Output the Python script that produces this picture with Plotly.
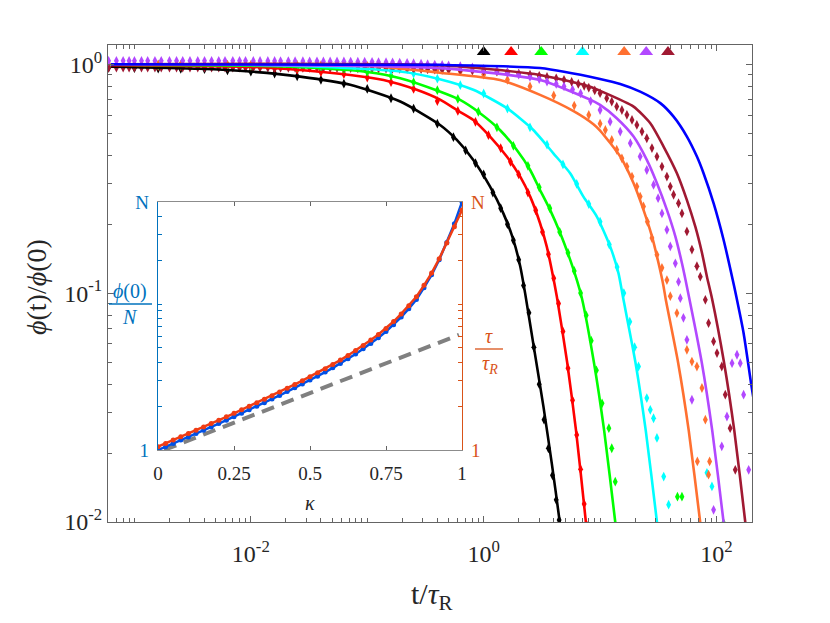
import plotly.graph_objects as go

# ---- main panel: relaxation curves (solid lines) ----
colors = {
    "black": "rgb(0,0,0)",
    "red": "rgb(255,0,0)",
    "green": "rgb(0,255,0)",
    "cyan": "rgb(0,255,255)",
    "orange": "rgb(255,112,48)",
    "purple": "rgb(178,72,255)",
    "darkred": "rgb(160,25,50)",
    "blue": "rgb(0,0,255)",
}

t_black = [0.00063, 0.0036, 0.0098, 0.0265, 0.0714, 0.192, 0.422, 0.588, 0.815, 1.135, 1.476, 1.80, 2.06, 2.27, 2.67, 3.26, 3.85, 4.48, 4.75]
phi_black = [0.975, 0.955, 0.929, 0.883, 0.813, 0.687, 0.543, 0.467, 0.382, 0.292, 0.223, 0.171, 0.131, 0.100, 0.060, 0.032, 0.018, 0.0102, 0.0078]

t_red = [0.00063, 0.01, 0.0265, 0.0714, 0.138, 0.266, 0.422, 0.588, 0.815, 1.135, 1.58, 2.06, 2.51, 3.05, 3.48, 3.85, 4.25, 5.21, 6.22, 7.55, 7.9]
phi_red = [0.99, 0.973, 0.944, 0.898, 0.853, 0.773, 0.70, 0.631, 0.571, 0.483, 0.395, 0.323, 0.264, 0.202, 0.160, 0.126, 0.0966, 0.05, 0.025, 0.01, 0.0078]

t_green = [0.00063, 0.01, 0.04, 0.1, 0.192, 0.42, 0.627, 0.931, 1.38, 1.92, 2.51, 3.05, 3.72, 4.54, 5.53, 6.32, 6.98, 8.84, 10.85, 13.5, 14.1]
phi_green = [0.995, 0.985, 0.96, 0.925, 0.869, 0.76, 0.698, 0.611, 0.516, 0.423, 0.345, 0.282, 0.231, 0.183, 0.140, 0.114, 0.095, 0.05, 0.025, 0.01, 0.0082]

t_cyan = [0.00063, 0.01, 0.05, 0.192, 0.42, 0.815, 1.58, 2.67, 3.97, 5.53, 7.19, 9.38, 12.2, 14.4, 15.7, 20.1, 24.7, 30.8, 32.3]
phi_cyan = [1.0, 0.995, 0.97, 0.929, 0.86, 0.773, 0.643, 0.516, 0.408, 0.334, 0.264, 0.216, 0.160, 0.122, 0.0966, 0.05, 0.025, 0.01, 0.008]

t_orange = [0.00063, 0.1, 0.42, 1.38, 3.05, 5.92, 8.77, 10.0, 14.9, 19.4, 23.6, 27.9, 31.8, 35.1, 36.7, 46.7, 57.8, 72.4, 76.0]
phi_orange = [1.0, 0.985, 0.918, 0.853, 0.735, 0.624, 0.547, 0.513, 0.395, 0.302, 0.231, 0.177, 0.135, 0.107, 0.0935, 0.05, 0.025, 0.01, 0.008]

t_purple = [0.00063, 0.422, 3.05, 8.22, 10.0, 13.9, 19.4, 25.2, 30.8, 37.5, 44.3, 50.5, 56.5, 74.6, 92.0, 115.0, 121.0]
phi_purple = [1.0, 0.962, 0.853, 0.70, 0.664, 0.581, 0.483, 0.382, 0.302, 0.231, 0.177, 0.135, 0.103, 0.05, 0.025, 0.01, 0.0078]

t_darkred = [0.00063, 0.422, 3.05, 8.22, 10.0, 19.4, 27.0, 35.1, 45.7, 55.7, 65.8, 75.0, 82.8, 91.4, 115.9, 142.3, 176.6, 185.0]
phi_darkred = [1.0, 0.99, 0.898, 0.798, 0.765, 0.653, 0.552, 0.437, 0.334, 0.255, 0.195, 0.150, 0.118, 0.095, 0.05, 0.025, 0.01, 0.0078]

t_blue = [0.00063, 0.422, 3.05, 10.0, 14.9, 22.1, 32.9, 42.8, 55.7, 67.9, 77.4, 94.4, 115.0, 136.0, 148.0, 171.0, 198.0, 215.0]
phi_blue = [1.0, 0.993, 0.962, 0.862, 0.820, 0.759, 0.676, 0.590, 0.483, 0.395, 0.334, 0.247, 0.171, 0.118, 0.0966, 0.0668, 0.0405, 0.031]

# ---- main panel: simulation points (diamonds) ----
tm_black = [0.0006, 0.001, 0.0016, 0.0025, 0.004, 0.0063, 0.01, 0.016, 0.025, 0.04, 0.063, 0.1, 0.16, 0.25, 0.4, 0.55, 0.7, 0.85, 1.0, 1.2, 1.4, 1.6, 1.8, 2.0, 2.2, 2.45, 2.7, 3.0, 3.3, 3.6, 3.9, 4.2, 4.45]
pm_black = [0.965, 0.962, 0.958, 0.955, 0.952, 0.94, 0.928, 0.91, 0.885, 0.855, 0.822, 0.78, 0.71, 0.64, 0.55, 0.48, 0.42, 0.37, 0.33, 0.275, 0.235, 0.2, 0.17, 0.14, 0.108, 0.082, 0.058, 0.04, 0.028, 0.021, 0.016, 0.0125, 0.0102]

tm_red = [0.0006, 0.001, 0.0016, 0.0025, 0.004, 0.0063, 0.01, 0.016, 0.025, 0.04, 0.063, 0.1, 0.16, 0.25, 0.4, 0.6, 0.85, 1.1, 1.4, 1.7, 2.0, 2.4, 2.8, 3.2, 3.6, 4.0, 4.4, 4.8, 5.3, 5.8, 6.3, 6.8, 7.3, 7.6]
pm_red = [0.985, 0.983, 0.98, 0.978, 0.975, 0.972, 0.968, 0.958, 0.945, 0.925, 0.905, 0.875, 0.835, 0.78, 0.69, 0.625, 0.56, 0.49, 0.43, 0.375, 0.33, 0.275, 0.23, 0.185, 0.148, 0.116, 0.09, 0.068, 0.047, 0.034, 0.024, 0.017, 0.012, 0.0098]

tm_green = [0.0006, 0.001, 0.0016, 0.0025, 0.004, 0.0063, 0.01, 0.016, 0.025, 0.04, 0.063, 0.1, 0.16, 0.25, 0.4, 0.6, 0.9, 1.3, 1.8, 2.4, 3.0, 3.7, 4.5, 5.3, 6.0, 6.8, 7.6, 8.4, 9.3, 10.4, 11.9, 12.6, 13.5, 46.2, 50.5, 115.0]
pm_green = [0.99, 0.99, 0.988, 0.987, 0.985, 0.983, 0.98, 0.975, 0.968, 0.958, 0.945, 0.925, 0.89, 0.835, 0.77, 0.705, 0.62, 0.53, 0.44, 0.36, 0.29, 0.235, 0.185, 0.15, 0.125, 0.1, 0.08, 0.062, 0.046, 0.033, 0.0257, 0.021, 0.015, 0.0129, 0.0129, 0.0099]

tm_cyan = [0.0006, 0.001, 0.0016, 0.0025, 0.004, 0.0063, 0.01, 0.016, 0.025, 0.04, 0.063, 0.1, 0.16, 0.25, 0.4, 0.63, 1.0, 1.6, 2.5, 3.5, 4.8, 6.3, 8.0, 10.0, 12.0, 14.0, 16.0, 18.0, 19.8, 21.4, 25.2, 27.0, 28.8, 30.8, 35.2, 38.8, 82.8, 91.4]
pm_cyan = [0.995, 0.995, 0.994, 0.993, 0.992, 0.992, 0.99, 0.988, 0.985, 0.98, 0.972, 0.962, 0.94, 0.91, 0.865, 0.81, 0.745, 0.64, 0.53, 0.445, 0.365, 0.3, 0.245, 0.205, 0.163, 0.13, 0.1, 0.075, 0.058, 0.0478, 0.0348, 0.0309, 0.0284, 0.0233, 0.0158, 0.0119, 0.0164, 0.0143]

tm_orange = [0.0006, 0.001, 0.0016, 0.0025, 0.004, 0.0063, 0.01, 0.016, 0.025, 0.04, 0.063, 0.1, 0.16, 0.25, 0.4, 0.63, 1.0, 1.6, 2.5, 4.0, 6.0, 8.0, 10.0, 11.1, 12.6, 13.9, 15.4, 17.0, 18.8, 20.7, 22.1, 23.6, 25.5, 27.9, 30.8, 34.0, 37.5, 40.1, 45.7, 55.7, 61.5, 67.9, 75.0, 80.2, 68.5, 87.3, 85.5]
pm_orange = [1.0, 1.0, 0.998, 0.997, 0.996, 0.995, 0.994, 0.993, 0.992, 0.99, 0.987, 0.983, 0.975, 0.965, 0.95, 0.93, 0.9, 0.855, 0.8, 0.73, 0.66, 0.6, 0.55, 0.516, 0.467, 0.423, 0.388, 0.357, 0.323, 0.292, 0.264, 0.239, 0.205, 0.174, 0.147, 0.129, 0.114, 0.097, 0.0818, 0.0565, 0.0502, 0.0478, 0.0385, 0.028, 0.0184, 0.0184, 0.0161]

# sampling times of the densely drawn plateau (top band of purple / dark red points)
t_band = [0.0006, 0.0007, 0.0008, 0.0009, 0.001, 0.00115, 0.0013, 0.0015, 0.0017, 0.002, 0.0023, 0.0026, 0.003, 0.0035, 0.004,
          0.0046, 0.0053, 0.006, 0.007, 0.008, 0.009, 0.0105, 0.012, 0.014, 0.016, 0.018, 0.021, 0.024, 0.028, 0.032,
          0.037, 0.042, 0.048, 0.055, 0.063, 0.072, 0.083, 0.095, 0.11, 0.125, 0.145, 0.165, 0.19, 0.22, 0.25, 0.29,
          0.33, 0.38, 0.44, 0.5]
pb_purple = [1.035, 1.035, 1.035, 1.035, 1.035, 1.035, 1.035, 1.035, 1.035, 1.035, 1.035, 1.035, 1.035, 1.035, 1.035,
             1.035, 1.035, 1.035, 1.035, 1.035, 1.035, 1.034, 1.034, 1.033, 1.033, 1.032, 1.032, 1.031, 1.031, 1.030,
             1.030, 1.029, 1.029, 1.028, 1.028, 1.027, 1.026, 1.025, 1.024, 1.022, 1.021, 1.019, 1.017, 1.014, 1.010, 1.006,
             1.001, 0.996, 0.992, 0.988]
pb_darkred = [0.966, 0.966, 0.966, 0.966, 0.966, 0.966, 0.966, 0.966, 0.966, 0.966, 0.966, 0.966, 0.966, 0.966, 0.966,
              0.966, 0.966, 0.966, 0.966, 0.966, 0.966, 0.966, 0.965, 0.965, 0.965, 0.964, 0.964, 0.964, 0.963, 0.963,
              0.963, 0.962, 0.962, 0.962, 0.961, 0.961, 0.960, 0.960, 0.959, 0.958, 0.957, 0.956, 0.955, 0.954, 0.953, 0.951,
              0.950, 0.948, 0.946, 0.944]

tm_purple = [0.63, 0.8, 1.0, 1.3, 1.6, 2.0, 2.5, 3.0, 3.5, 4.2, 4.9, 5.8, 6.8, 8.3, 10.0, 12.2, 14.9, 18.2, 22.1, 25.2, 28.8, 31.5, 34.0, 37.5, 40.1, 44.3, 47.2, 48.9, 52.0, 55.7, 61.5, 94.4, 111.0, 123.0, 136.0, 150.0, 160.0, 171.0, 189.0]
pm_purple = [0.98, 0.968, 0.955, 0.94, 0.92, 0.9, 0.88, 0.862, 0.84, 0.82, 0.8, 0.775, 0.746, 0.69, 0.631, 0.561, 0.508, 0.452, 0.395, 0.345, 0.297, 0.26, 0.223, 0.189, 0.16, 0.135, 0.112, 0.095, 0.078, 0.0625, 0.0342, 0.0113, 0.0214, 0.0289, 0.0494, 0.0538, 0.0494, 0.036, 0.0169]

tm_darkred = [0.63, 0.8, 1.0, 1.3, 1.6, 2.0, 2.5, 3.0, 3.5, 4.2, 4.9, 5.7, 6.5, 7.3, 8.0, 9.0, 10.0, 11.4, 12.6, 13.9, 15.4, 17.0, 18.8, 20.7, 22.9, 25.2, 27.9, 30.8, 34.0, 37.5, 40.1, 42.8, 47.2, 50.5, 55.7, 61.5, 67.9, 72.6, 80.2, 85.5, 94.4, 101.0, 111.0, 119.0, 131.0, 145.0]
pm_darkred = [0.94, 0.937, 0.935, 0.928, 0.92, 0.91, 0.9, 0.89, 0.88, 0.868, 0.855, 0.838, 0.82, 0.805, 0.79, 0.768, 0.747, 0.711, 0.687, 0.653, 0.631, 0.601, 0.571, 0.543, 0.508, 0.475, 0.43, 0.395, 0.357, 0.323, 0.292, 0.269, 0.247, 0.223, 0.186, 0.155, 0.131, 0.118, 0.0935, 0.074, 0.0615, 0.0547, 0.0478, 0.036, 0.0257, 0.0169]

# relaxation times marked with triangles along the top
tau_marks = [1.0, 1.72, 3.12, 7.06, 16.1, 24.9, 38.3]
tau_level = [1.13, 1.13, 1.13, 1.13, 1.13, 1.13, 1.13]
tau_colors = ["black", "red", "green", "cyan", "orange", "purple", "darkred"]

# ---- inset ----
kappa = [0.0, 0.025, 0.05, 0.075, 0.1, 0.125, 0.15, 0.175, 0.2, 0.225, 0.25, 0.275, 0.3, 0.325, 0.35, 0.375, 0.4, 0.425, 0.45, 0.475, 0.5,
         0.525, 0.55, 0.575, 0.6, 0.625, 0.65, 0.675, 0.7, 0.725, 0.75, 0.775, 0.8, 0.825, 0.85, 0.875, 0.9, 0.925, 0.95, 0.975, 1.0]
phi0_over_N = [1.0, 1.052, 1.109, 1.169, 1.23, 1.297, 1.365, 1.439, 1.517, 1.6, 1.69, 1.786, 1.888, 1.995, 2.109, 2.234, 2.366, 2.512, 2.667, 2.831, 3.013,
               3.206, 3.42, 3.656, 3.917, 4.217, 4.55, 4.932, 5.37, 5.875, 6.471, 7.211, 8.147, 9.29, 10.72, 12.94, 15.85, 20.09, 26.42, 35.48, 50.0]
tau_over_tauR = [1.054, 1.109, 1.169, 1.233, 1.297, 1.368, 1.439, 1.517, 1.6, 1.687, 1.782, 1.884, 1.991, 2.104, 2.223, 2.355, 2.495, 2.649, 2.812, 2.985, 3.177,
                 3.381, 3.606, 3.855, 4.13, 4.446, 4.797, 5.2, 5.662, 6.194, 6.808, 7.586, 8.551, 9.727, 11.22, 13.43, 16.29, 20.42, 26.18, 33.88, 44.06]
guide_kappa = [0.02, 0.99]
guide_val = [1.0, 6.15]
N_value = 50

x_major = [0.01, 1, 100]
x_major_text = ["10<sup>-2</sup>", "10<sup>0</sup>", "10<sup>2</sup>"]
y_major = [0.01, 0.1, 1]
y_major_text = ["10<sup>-2</sup>", "10<sup>-1</sup>", "10<sup>0</sup>"]
inset_x_ticks = [0, 0.25, 0.5, 0.75, 1]
inset_x_text = ["0", "0.25", "0.5", "0.75", "1"]

FRAME = "rgb(100,100,100)"
INK = "rgb(38,38,38)"
AX_BLUE = "rgb(0,114,189)"
AX_ORANGE = "rgb(217,83,25)"
FONT = "Liberation Serif"

# the page body adds an 8 px offset; plot frame wanted at page px 108..752 x 45..522
OFF = 8
W, H = 822, 615
PL, PR, PT, PB = 108, 752, 45, 522
L, R, T, B = PL - OFF, W - (PR - OFF), PT - OFF, H - (PB - OFF)


def px(x, y):
    return (x - PL) / (PR - PL), (PB - y) / (PB - PT)


def log_minor(lo, hi):
    out = []
    e = lo
    while e <= hi:
        for m in range(1, 10):
            out.append(m * 10.0 ** e)
        e += 1
    return out


fig = go.Figure()

markers = [
    (tm_black, pm_black, "black"), (tm_red, pm_red, "red"), (tm_green, pm_green, "green"),
    (tm_cyan, pm_cyan, "cyan"), (tm_orange, pm_orange, "orange"),
    (t_band + tm_darkred, pb_darkred + pm_darkred, "darkred"),
    (t_band + tm_purple, pb_purple + pm_purple, "purple"),
]
for tx, py, c in markers:
    fig.add_trace(go.Scatter(x=tx, y=py, mode="markers",
                             marker=dict(symbol="diamond-tall", size=7, color=colors[c]),
                             xaxis="x", yaxis="y"))

lines = [
    (t_black, phi_black, "black"), (t_red, phi_red, "red"), (t_green, phi_green, "green"),
    (t_cyan, phi_cyan, "cyan"), (t_orange, phi_orange, "orange"), (t_purple, phi_purple, "purple"),
    (t_darkred, phi_darkred, "darkred"), (t_blue, phi_blue, "blue"),
]
for tx, py, c in lines:
    fig.add_trace(go.Scatter(x=tx, y=py, mode="lines",
                             line=dict(color=colors[c], width=2.6, shape="spline", smoothing=0.6),
                             xaxis="x", yaxis="y"))

fig.add_trace(go.Scatter(x=tau_marks, y=tau_level, mode="markers",
                         marker=dict(symbol="triangle-up", size=12, color=[colors[c] for c in tau_colors]),
                         xaxis="x", yaxis="y"))

# inset traces
fig.add_trace(go.Scatter(x=guide_kappa, y=guide_val, mode="lines",
                         line=dict(color="rgb(128,128,128)", width=4, dash="13px,8px"),
                         xaxis="x2", yaxis="y2"))
fig.add_trace(go.Scatter(x=kappa, y=phi0_over_N, mode="lines+markers",
                         line=dict(color="rgb(0,80,230)", width=2.5),
                         marker=dict(size=5, color="rgb(0,80,230)"),
                         xaxis="x2", yaxis="y2"))
fig.add_trace(go.Scatter(x=kappa, y=tau_over_tauR, mode="lines+markers",
                         line=dict(color="rgb(240,60,20)", width=2.5),
                         marker=dict(size=5, color="rgb(240,60,20)"),
                         xaxis="x2", yaxis="y3"))

inset_minor = [2, 3, 4, 5, 6, 7, 8, 9, 10, 20, 30, 40]

fig.update_layout(
    width=W, height=H,
    margin=dict(l=L, r=R, t=T, b=B),
    paper_bgcolor="white", plot_bgcolor="white",
    showlegend=False,
    font=dict(family=FONT, color=INK),
    xaxis=dict(type="log", range=[-3.227, 2.305], domain=[0, 1], anchor="y",
               tickvals=x_major, ticktext=x_major_text, tickfont=dict(size=24, color=INK),
               ticks="inside", ticklen=6, tickcolor=FRAME, mirror="ticks",
               showline=True, linecolor=FRAME, linewidth=1, showgrid=False, zeroline=False,
               ticklabelstandoff=10,
               minor=dict(tickvals=log_minor(-4, 2), ticks="inside", ticklen=4, tickcolor=FRAME, showgrid=False)),
    yaxis=dict(type="log", range=[-2, 0.084], domain=[0, 1], anchor="x",
               tickvals=y_major, ticktext=y_major_text, tickfont=dict(size=24, color=INK),
               ticks="inside", ticklen=6, tickcolor=FRAME, mirror="ticks",
               showline=True, linecolor=FRAME, linewidth=1, showgrid=False, zeroline=False,
               ticklabelstandoff=0,
               minor=dict(tickvals=log_minor(-2, 0), ticks="inside", ticklen=4, tickcolor=FRAME, showgrid=False)),
    xaxis2=dict(domain=[px(158, 0)[0], px(462, 0)[0]], anchor="y2", range=[0, 1],
                tickvals=inset_x_ticks, ticktext=inset_x_text, tickfont=dict(size=19, color=INK),
                ticks="inside", ticklen=4, tickcolor=FRAME, mirror="ticks",
                showline=True, linecolor="rgb(140,140,140)", linewidth=1.2, showgrid=False, zeroline=False,
                ticklabelstandoff=6),
    yaxis2=dict(domain=[px(0, 450)[1], px(0, 202)[1]], anchor="x2", type="log", range=[0, 1.69897],
                tickvals=[1, N_value], ticktext=["1", "N"], tickfont=dict(size=19, color=AX_BLUE),
                ticks="inside", ticklen=4, tickcolor=AX_BLUE,
                showline=True, linecolor=AX_BLUE, linewidth=1.2, showgrid=False, zeroline=False,
                ticklabelstandoff=4,
                minor=dict(tickvals=inset_minor, ticks="inside", ticklen=4, tickcolor=AX_BLUE, showgrid=False)),
    yaxis3=dict(overlaying="y2", anchor="x2", side="right", type="log", range=[0, 1.69897],
                tickvals=[1, N_value], ticktext=["1", "N"], tickfont=dict(size=19, color=AX_ORANGE),
                ticks="inside", ticklen=4, tickcolor=AX_ORANGE,
                showline=True, linecolor=AX_ORANGE, linewidth=1.2, showgrid=False, zeroline=False,
                ticklabelstandoff=4,
                minor=dict(tickvals=inset_minor, ticks="inside", ticklen=4, tickcolor=AX_ORANGE, showgrid=False)),
)


def note(text, x, y, size, color=INK, angle=0):
    xp, yp = px(x, y)
    fig.add_annotation(text=text, x=xp, y=yp, xref="paper", yref="paper", showarrow=False,
                       font=dict(family=FONT, size=size, color=color), textangle=angle,
                       xanchor="center", yanchor="middle")


note("<i>ϕ</i>(t)/<i>ϕ</i>(0)", 36, 287, 28, angle=-90)
note("t/<i>τ</i><sub>R</sub>", 432, 596, 30)
note("<i>κ</i>", 310, 503, 20)

# inset axis labels as fractions
note("<i>ϕ</i>(0)", 130, 291, 20, AX_BLUE)
note("<i>N</i>", 130, 317, 20, AX_BLUE)
note("<i>τ</i>", 489, 336, 20, AX_ORANGE)
note("<i>τ</i><sub><i>R</i></sub>", 490, 364, 20, AX_ORANGE)
for (x0, x1, yb, col) in [(109, 152, 304, AX_BLUE), (475, 503, 349, AX_ORANGE)]:
    a0, b0 = px(x0, yb)
    a1, _ = px(x1, yb)
    fig.add_shape(type="line", xref="paper", yref="paper", x0=a0, x1=a1, y0=b0, y1=b0,
                  line=dict(color=col, width=1.3))

fig.write_html("out.html")
